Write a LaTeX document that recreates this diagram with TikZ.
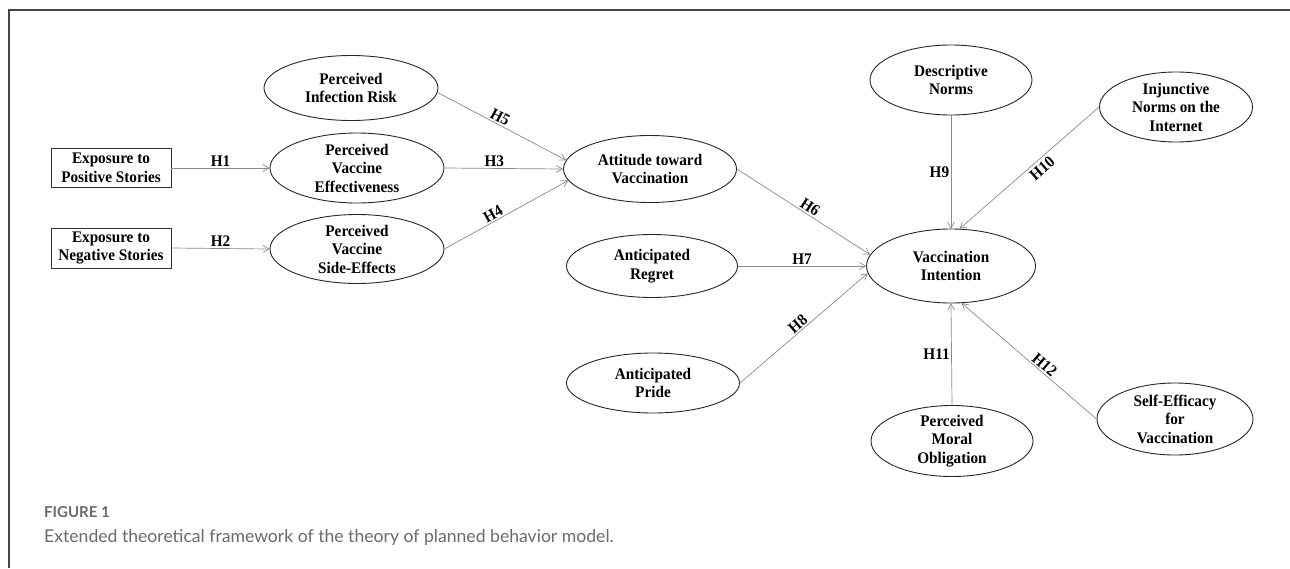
\documentclass[tikz,border=0pt]{standalone}
\usepackage{fontspec}
\usetikzlibrary{shapes.geometric,arrows.meta}
\newfontfamily\nf[FakeStretch=0.94]{Liberation Serif}
\newfontfamily\capfont{Lato}
\definecolor{framegray}{HTML}{444444}
\definecolor{arrowgray}{HTML}{8A8A8A}
\definecolor{capgray}{HTML}{6A6A6A}
\begin{document}
\begin{tikzpicture}[x=1pt,y=-1pt,
  every node/.style={font=\nf\bfseries\fontsize{16.2}{18.5}\selectfont, align=center},
  oval/.style={ellipse, draw=black!85, line width=0.9pt, inner sep=-5pt},
  rbox/.style={rectangle, draw=black!80, line width=0.9pt, minimum width=120pt, minimum height=39pt, inner sep=0pt},
  conn/.style={draw=arrowgray, line width=0.7pt, -{Straight Barb[length=6pt,width=7pt]}},
  hl/.style={inner sep=1.5pt},
  hls/.style={inner sep=3pt}
]
\useasboundingbox (0,0) rectangle (1290,568);
% frame
\draw[framegray, line width=1.4pt] (9,568) -- (9,10) -- (1290,10);

% nodes
\node[rbox] (pos) at (111,168) {Exposure to\\Positive Stories};
\node[rbox, minimum height=40pt] (neg) at (111,248) {Exposure to\\Negative Stories};
\node[oval, minimum width=174pt, minimum height=65pt] (pir) at (351,88) {Perceived\\Infection Risk};
\node[oval, minimum width=174pt, minimum height=70pt] (pve) at (357,168) {Perceived\\Vaccine\\Effectiveness};
\node[oval, minimum width=174pt, minimum height=69pt] (pvse) at (357,249) {Perceived\\Vaccine\\Side-Effects};
\node[oval, minimum width=173pt, minimum height=67pt] (att) at (650,169) {Attitude toward\\Vaccination};
\node[oval, minimum width=171pt, minimum height=63pt] (reg) at (652,266) {Anticipated\\Regret};
\node[oval, minimum width=173pt, minimum height=60pt] (pride) at (653,383) {Anticipated\\Pride};
\node[oval, minimum width=169pt, minimum height=74pt] (vi) at (951,266) {Vaccination\\Intention};
\node[oval, minimum width=162pt, minimum height=70pt] (dn) at (951,80) {Descriptive\\Norms};
\node[oval, minimum width=153pt, minimum height=70pt] (inj) at (1176,107) {Injunctive\\Norms on the\\Internet};
\node[oval, minimum width=162pt, minimum height=71pt] (pmo) at (952,441) {Perceived\\Moral\\Obligation};
\node[oval, minimum width=156pt, minimum height=72pt] (se) at (1175,419) {Self-Efficacy\\for\\Vaccination};

% connectors
\draw[conn] (pos.east) -- node[hl, above] {H1} (pve.west);
\draw[conn] (neg.east) -- node[hl, above] {H2} (pvse.west);
\draw[conn] (pve.east) -- node[hl, above, pos=0.42] {H3} (att.west);
\draw[conn] (pir.-3) -- node[hl, above, sloped, pos=0.46] {H5} (att.174);
\draw[conn] (pvse.east) -- node[hl, above, sloped, pos=0.42] {H4} (att.188);
\draw[conn] (att.east) -- node[hl, above, sloped, pos=0.52] {H6} (vi.172);
\draw[conn] (reg.east) -- node[hl, above] {H7} (vi.west);
\draw[conn] (pride.east) -- node[hl, above, sloped, pos=0.49] {H8} (vi.185);
\draw[conn] (dn.south) -- node[hl, left] {H9} (vi.north);
\draw[conn] (inj.west) -- node[hls, below, sloped, pos=0.45] {H10} (vi.77);
\draw[conn] (pmo.north) -- node[hl, left] {H11} (vi.south);
\draw[conn] (se.west) -- node[hl, above, sloped, pos=0.42] {H12} (vi.-74);

% caption
\node[anchor=base west, inner sep=0pt, font=\capfont\bfseries\fontsize{15}{18}\selectfont, text=capgray] (figlabel) at (44,517) {FIGURE 1};
\node[anchor=base west, inner sep=0pt, font=\capfont\fontsize{17.6}{20}\selectfont, text=capgray] (caption) at (44,542) {Extended theoretical framework of the theory of planned behavior model.};
\end{tikzpicture}
\end{document}
